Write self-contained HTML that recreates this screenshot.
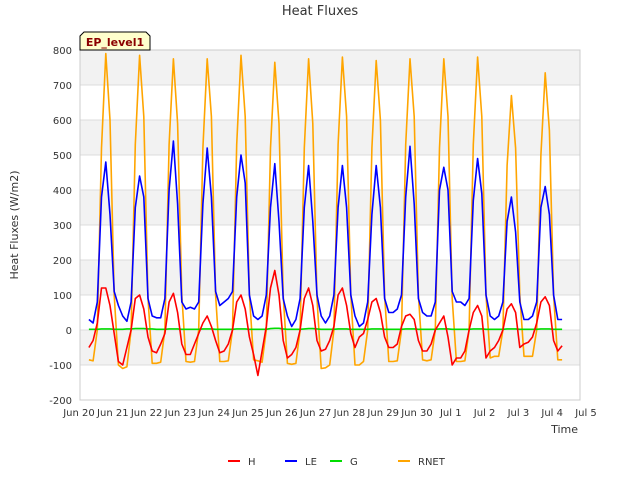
<!DOCTYPE html>
<html><head><meta charset="utf-8"><style>
body{margin:0;background:#fff;font-family:"DejaVu Sans","Liberation Sans",sans-serif}
</style></head><body>
<svg width="640" height="480" xmlns="http://www.w3.org/2000/svg" font-family="DejaVu Sans, Liberation Sans, sans-serif">
<rect width="640" height="480" fill="#fff"/>
<text x="320" y="15" text-anchor="middle" font-size="13" fill="#333">Heat Fluxes</text>
<g id="bands"></g>
<g id="grid"></g>
<g id="axes"></g>
<g id="series"></g>
<text transform="translate(18,225) rotate(-90)" text-anchor="middle" font-size="11" fill="#333">Heat Fluxes (W/m2)</text>
<text x="578" y="433" text-anchor="end" font-size="11" fill="#333">Time</text>
<g>
<path d="M80,36 L84,32 L146,32 L150,36 L150,50 L80,50 Z" fill="#ffffcc" stroke="#000" stroke-width="1"/>
<text x="115" y="46" text-anchor="middle" font-size="11" font-weight="bold" fill="#8b0000">EP_level1</text>
</g>
<g id="legend"></g>
</svg>
<script>
const yTicks=[-200,-100,0,100,200,300,400,500,600,700,800];
const xTickLabels=["Jun 20","Jun 21","Jun 22","Jun 23","Jun 24","Jun 25","Jun 26","Jun 27","Jun 28","Jun 29","Jun 30","Jul 1","Jul 2","Jul 3","Jul 4","Jul 5"];
const stepHours=3;
const startHour=7;
const RNET=[-85,-88,0,520,790,600,100,-100,
-110,-105,0,530,785,610,90,-95,
-95,-92,0,530,775,590,100,-90,
-92,-90,0,520,775,610,100,-90,
-90,-88,0,530,785,610,100,-85,
-88,-92,0,520,765,590,100,-95,
-98,-95,0,520,775,590,90,-110,
-108,-100,0,530,780,610,100,-100,
-100,-90,0,520,770,600,100,-90,
-90,-88,0,530,775,610,100,-85,
-88,-85,0,520,775,610,90,-90,
-90,-88,0,530,780,610,100,-80,
-75,-75,0,470,670,520,100,-75,
-75,-75,0,500,735,570,100,-85,-85];
const LE=[30,20,80,380,480,330,110,70,
40,25,80,350,440,380,90,40,
35,35,90,400,540,360,80,60,
65,60,80,360,520,380,110,70,
80,90,110,380,500,420,100,40,
30,40,100,350,475,310,90,40,
10,30,90,350,470,310,100,40,
20,40,100,350,470,350,100,40,
10,20,80,330,470,350,90,50,
50,60,100,380,525,360,90,50,
40,40,80,400,465,400,110,80,
80,70,90,370,490,390,100,40,
30,40,80,310,380,280,80,30,
30,40,80,350,410,330,100,30,30];
const H=[-50,-30,20,120,120,70,-10,-90,
-100,-50,0,90,100,60,-20,-60,
-65,-40,-10,80,105,50,-40,-70,
-70,-40,-10,20,40,10,-30,-65,
-60,-40,0,80,100,60,-20,-70,
-130,-60,10,120,170,100,-30,-80,
-70,-50,0,90,120,70,-30,-60,
-55,-30,10,100,120,70,-10,-50,
-20,-10,30,80,90,50,-20,-50,
-50,-40,10,40,45,30,-30,-60,
-60,-40,0,20,40,-20,-100,-80,
-80,-60,0,50,70,40,-80,-60,
-50,-30,0,60,75,50,-50,-40,
-35,-20,20,80,95,70,-30,-60,-45];
const G=[2,2,2,3,3,3,2,2,2,3,3,4,4,4,3,3,2,2,2,3,3,3,2,2,2,2,2,3,3,3,2,2,2,2,2,3,3,3,2,2,2,2,2,4,5,5,3,2,2,2,2,3,4,4,3,2,2,2,2,3,3,3,2,2,2,2,2,3,3,3,2,2,2,2,2,3,3,3,2,2,2,2,2,3,3,3,2,2,2,2,2,3,3,3,2,2,2,2,2,3,3,3,2,2,2,2,2,3,3,3,2,2,2];
const NS="http://www.w3.org/2000/svg";
const L=80,R=580,T=50,B=400,yMin=-200,yMax=800,x0=79,dayW=33.8;
const ys=v=>B-(v-yMin)/(yMax-yMin)*(B-T);
const xs=h=>x0+h/24*dayW;
function mk(tag,at,parent){const e=document.createElementNS(NS,tag);for(const k in at)e.setAttribute(k,at[k]);parent.appendChild(e);return e;}
const bands=document.getElementById('bands'),grid=document.getElementById('grid'),axes=document.getElementById('axes'),series=document.getElementById('series'),legend=document.getElementById('legend');
mk('rect',{x:L,y:T,width:R-L,height:B-T,fill:'#fff'},bands);
for(let i=0;i<yTicks.length-1;i++){if(i%2===1){const r=mk('rect',{x:L,y:ys(yTicks[i+1]),width:R-L,height:ys(yTicks[i])-ys(yTicks[i+1]),fill:'#f2f2f2'},bands);

}}
yTicks.forEach(v=>{const y=ys(v);
const g=mk('line',{x1:L,x2:R,y1:y,y2:y,stroke:'#dcdcdc','stroke-width':1},grid);


const t=mk('text',{x:L-8,y:y+4,'text-anchor':'end','font-size':10,fill:'#333'},axes);t.textContent=v;

});
const fr=mk('rect',{x:L,y:T,width:R-L,height:B-T,fill:'none',stroke:'#ccc'},axes);


xTickLabels.forEach((s,i)=>{const x=xs(i*24);
const t=mk('text',{x:x,y:416,'text-anchor':'middle','font-size':10,fill:'#333'},axes);t.textContent=s;

});
function line(arr,color,name){const pts=arr.map((v,i)=>xs(startHour+i*stepHours).toFixed(1)+','+ys(v).toFixed(1)).join(' ');
const p=mk('polyline',{points:pts,fill:'none',stroke:color,'stroke-width':1.6,'stroke-linejoin':'round'},series);

}
line(RNET,'orange','rnet-line');line(LE,'blue','le-line');line(G,'#00dd00','g-line');line(H,'red','h-line');
const leg=[["H","red",228],["LE","blue",285],["G","#00dd00",330],["RNET","orange",398]];
leg.forEach(([n,c,x])=>{const g=mk('g',{},legend);


mk('line',{x1:x,x2:x+12,y1:461,y2:461,stroke:c,'stroke-width':2},g);
const t=mk('text',{x:x+20,y:465,'font-size':10,fill:'#333'},g);t.textContent=n;});
</script>
</body></html>
